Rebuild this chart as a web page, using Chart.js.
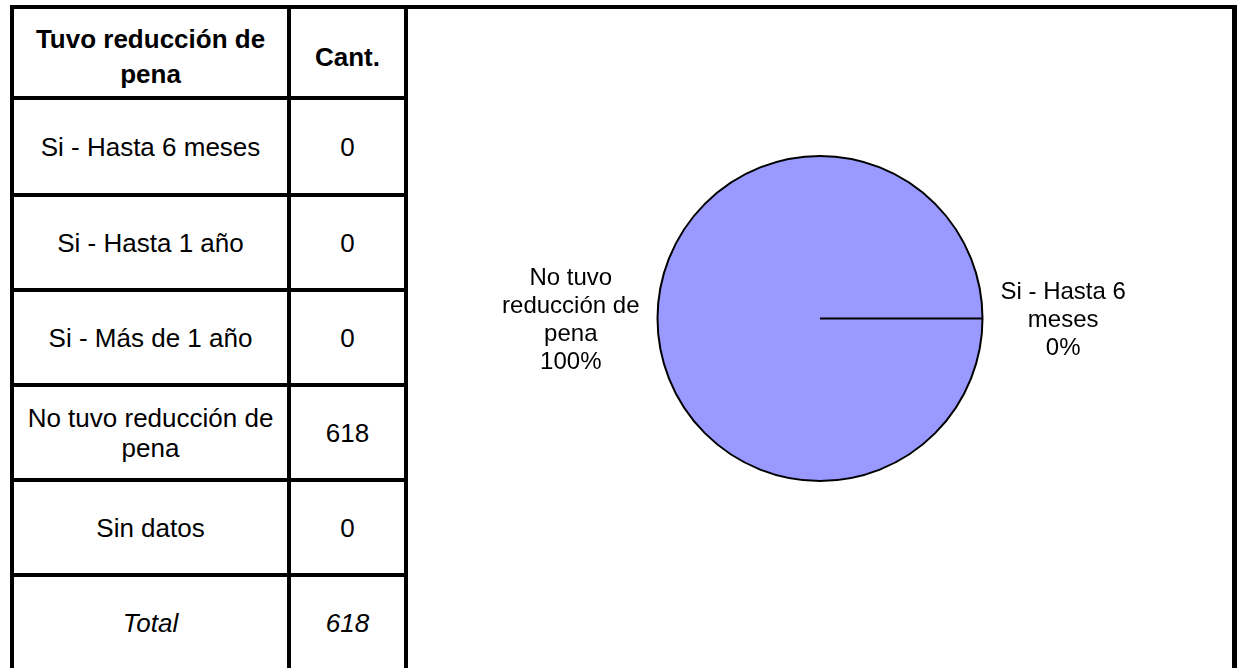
<!DOCTYPE html>
<html lang="es">
<head>
<meta charset="UTF-8">
<script src="https://cdn.jsdelivr.net/npm/chart.js@4.4.1/dist/chart.umd.min.js"></script>
<title>Tuvo reducción de pena</title>
<style>
  html, body { margin: 0; padding: 0; background: #fff; overflow: hidden; width: 1238px; height: 668px; }
  body { position: relative; font-family: "Liberation Sans", Arial, sans-serif; color: #000; }
  #tabla {
    position: absolute; left: 10px; top: 5px;
    display: grid;
    grid-template-columns: 273px 113px;
    grid-template-rows: 87px 93px 91px 91px 91px 91px 92px;
    gap: 4px; padding: 4px; background: #000;
  }
  #tabla div {
    background: #fff; display: flex; align-items: center; justify-content: center;
    text-align: center; font-size: 26px; line-height: 30px; padding: 0 4px;
  }
  #tabla div.head { font-weight: bold; line-height: 35px; padding-top: 9px; }
  #tabla div.total { font-style: italic; }
  #grafico {
    position: absolute; left: 404px; top: 5px; width: 824px; height: 700px;
    border-top: 4px solid #000; border-left: 4px solid #000; border-right: 5px solid #000;
  }
  #grafico canvas { display: block; }
</style>
</head>
<body>
<div id="tabla"></div>
<div id="grafico"><canvas id="torta" width="824" height="659"></canvas></div>
<script>
const headers = ['Tuvo reducción de pena', 'Cant.'];
const categories = ['Si - Hasta 6 meses', 'Si - Hasta 1 año', 'Si - Más de 1 año', 'No tuvo reducción de pena', 'Sin datos'];
const counts = [0, 0, 0, 618, 0];
const totalLabel = 'Total';
// slices whose label is drawn next to the pie
const labeledSlices = [0, 3];

const total = counts.reduce((a, b) => a + b, 0);

// table on the left
const tabla = document.getElementById('tabla');
function cell(text, cls) {
  const d = document.createElement('div');
  if (cls) d.className = cls;
  d.textContent = text;
  tabla.appendChild(d);
}
headers.forEach((h) => cell(h, 'head'));
categories.forEach((c, i) => { cell(c); cell(String(counts[i])); });
cell(totalLabel, 'total');
cell(String(total), 'total');

// wrap a label into lines no wider than maxWidth
function wrap(ctx, text, maxWidth) {
  const words = text.split(' ');
  const lines = [];
  let line = '';
  words.forEach((w) => {
    const test = line ? line + ' ' + w : w;
    if (line && ctx.measureText(test).width > maxWidth) {
      lines.push(line);
      line = w;
    } else {
      line = test;
    }
  });
  if (line) lines.push(line);
  return lines;
}

const sliceLabels = {
  id: 'sliceLabels',
  afterDatasetsDraw(chart) {
    const ctx = chart.ctx;
    const meta = chart.getDatasetMeta(0);
    ctx.save();
    ctx.font = '24px "Liberation Sans", Arial, sans-serif';
    ctx.fillStyle = '#000';
    ctx.textAlign = 'center';
    ctx.textBaseline = 'middle';
    const lineH = 28;
    labeledSlices.forEach((i) => {
      const arc = meta.data[i];
      const pct = Math.round(counts[i] / total * 100) + '%';
      const lines = wrap(ctx, categories[i], 145).concat([pct]);
      const w = Math.max(...lines.map((l) => ctx.measureText(l).width));
      const mid = (arc.startAngle + arc.endAngle) / 2;
      const dx = Math.cos(mid), dy = Math.sin(mid);
      const gap = arc.outerRadius + 18;
      const cx = arc.x + dx * gap + Math.sign(Math.round(dx * 1000)) * w / 2;
      const cy = arc.y + dy * gap + 2;
      const top = cy - (lines.length - 1) * lineH / 2;
      lines.forEach((l, k) => ctx.fillText(l, cx, top + k * lineH));
    });
    ctx.restore();
  }
};

new Chart(document.getElementById('torta'), {
  type: 'pie',
  data: {
    labels: categories,
    datasets: [{
      data: counts,
      backgroundColor: '#9999FF',
      borderColor: '#000',
      borderWidth: 2
    }]
  },
  options: {
    responsive: false,
    animation: false,
    devicePixelRatio: 1,
    rotation: 90,
    layout: { padding: { top: 146, bottom: 186 } },
    plugins: { legend: { display: false }, tooltip: { enabled: false } }
  },
  plugins: [sliceLabels]
});
</script>
</body>
</html>
